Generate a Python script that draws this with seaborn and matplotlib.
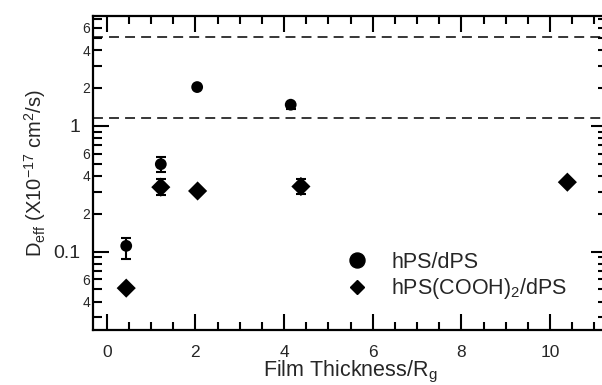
import numpy as np
import pandas as pd
import matplotlib
matplotlib.use("Agg")
import matplotlib.pyplot as plt
from matplotlib.ticker import FixedLocator, FixedFormatter
from matplotlib.lines import Line2D
import seaborn as sns

# ---- data ----
series_names = ["hPS/dPS", "hPS(COOH)$_2$/dPS"]

circle_x = [0.44, 1.22, 2.04, 4.15]
circle_y = [0.111, 0.495, 2.03, 1.47]
circle_lo = [0.0875, 0.43, 2.03, 1.36]
circle_hi = [0.128, 0.56, 2.03, 1.50]

diamond_x = [0.44, 1.22, 2.05, 4.38, 10.39]
diamond_y = [0.0512, 0.325, 0.303, 0.329, 0.356]
diamond_lo = [0.0512, 0.283, 0.303, 0.287, 0.356]
diamond_hi = [0.0512, 0.379, 0.303, 0.379, 0.356]

ref_lines = [5.08, 1.15]

x_major = [0, 2, 4, 6, 8, 10]
y_major = [0.1, 1]
y_major_labels = ["0.1", "1"]
y_minor = [0.03, 0.04, 0.05, 0.06, 0.07, 0.08, 0.09,
           0.2, 0.3, 0.4, 0.5, 0.6, 0.7, 0.8, 0.9,
           2, 3, 4, 5, 6, 7]
y_minor_labels = ["", "4", "", "6", "", "", "",
                  "2", "", "4", "", "6", "", "", "",
                  "2", "", "4", "", "6", ""]

# ---- style ----
sns.set_theme(style="ticks")
plt.rcParams["font.family"] = ["Liberation Sans", "DejaVu Sans"]
plt.rcParams["mathtext.fontset"] = "custom"
plt.rcParams["mathtext.rm"] = "Liberation Sans"
plt.rcParams["mathtext.it"] = "Liberation Sans:italic"
plt.rcParams["mathtext.bf"] = "Liberation Sans:bold"

fig = plt.figure(figsize=(6.02, 3.85), dpi=100)
ax = fig.add_axes([0.154, 0.1429, 0.854, 0.8164])

df = pd.DataFrame({
    "x": circle_x + diamond_x,
    "y": circle_y + diamond_y,
    "sample": [series_names[0]] * len(circle_x) + [series_names[1]] * len(diamond_x),
})

sns.scatterplot(data=df, x="x", y="y", style="sample", size="sample",
                markers={series_names[0]: "o", series_names[1]: "D"},
                sizes={series_names[0]: 72, series_names[1]: 95},
                color="black", edgecolor="black", linewidth=0,
                legend=False, ax=ax, zorder=3)

for xs, ys, lo, hi in [(circle_x, circle_y, circle_lo, circle_hi),
                       (diamond_x, diamond_y, diamond_lo, diamond_hi)]:
    xs = np.array(xs); ys = np.array(ys); lo = np.array(lo); hi = np.array(hi)
    m = (hi - lo) > 0
    ax.errorbar(xs[m], ys[m], yerr=[ys[m] - lo[m], hi[m] - ys[m]], fmt="none",
                ecolor="black", elinewidth=1.5, capsize=3.6, capthick=1.5, zorder=2)

for v in ref_lines:
    ax.axhline(v, color="black", lw=1.1, dashes=(6.5, 4), zorder=1)

ax.set_yscale("log")
ax.set_xlim(-0.316, 11.28)
ax.set_ylim(0.0238, 7.5)

ax.xaxis.set_major_locator(FixedLocator(x_major))
ax.xaxis.set_minor_locator(FixedLocator(np.arange(0, 11.5, 0.5)))
ax.yaxis.set_major_locator(FixedLocator(y_major))
ax.yaxis.set_major_formatter(FixedFormatter(y_major_labels))
ax.yaxis.set_minor_locator(FixedLocator(y_minor))
ax.yaxis.set_minor_formatter(FixedFormatter(y_minor_labels))

for s in ax.spines.values():
    s.set_linewidth(1.6)
    s.set_color("black")

ax.tick_params(axis="both", which="both", direction="in", top=True, right=True,
               color="black", width=1.5)
ax.tick_params(axis="x", which="major", length=11.5, labelsize=12.5, pad=11)
ax.tick_params(axis="x", which="minor", length=5.8)
ax.tick_params(axis="y", which="major", length=11.5, labelsize=14, pad=9)
ax.tick_params(axis="y", which="minor", length=6.5, labelsize=10, pad=2)

ax.set_xlabel(r"Film Thickness/R$_{\mathrm{g}}$", fontsize=15.5, labelpad=-1)
ax.set_ylabel(r"D$_{\mathrm{eff}}$ (X10$^{-17}$ cm$^{2}$/s)", fontsize=14.5, labelpad=4)

handles = [Line2D([], [], ls="none", marker="o", color="black", markersize=10.8),
           Line2D([], [], ls="none", marker="D", color="black", markersize=7.5)]
ax.legend(handles, series_names, loc="center left", bbox_to_anchor=(0.493, 0.170),
          frameon=False, fontsize=15.5, handlelength=1.0, handletextpad=1.1,
          labelspacing=0.15, borderpad=0, borderaxespad=0)

fig.savefig("out.png", dpi=100)
